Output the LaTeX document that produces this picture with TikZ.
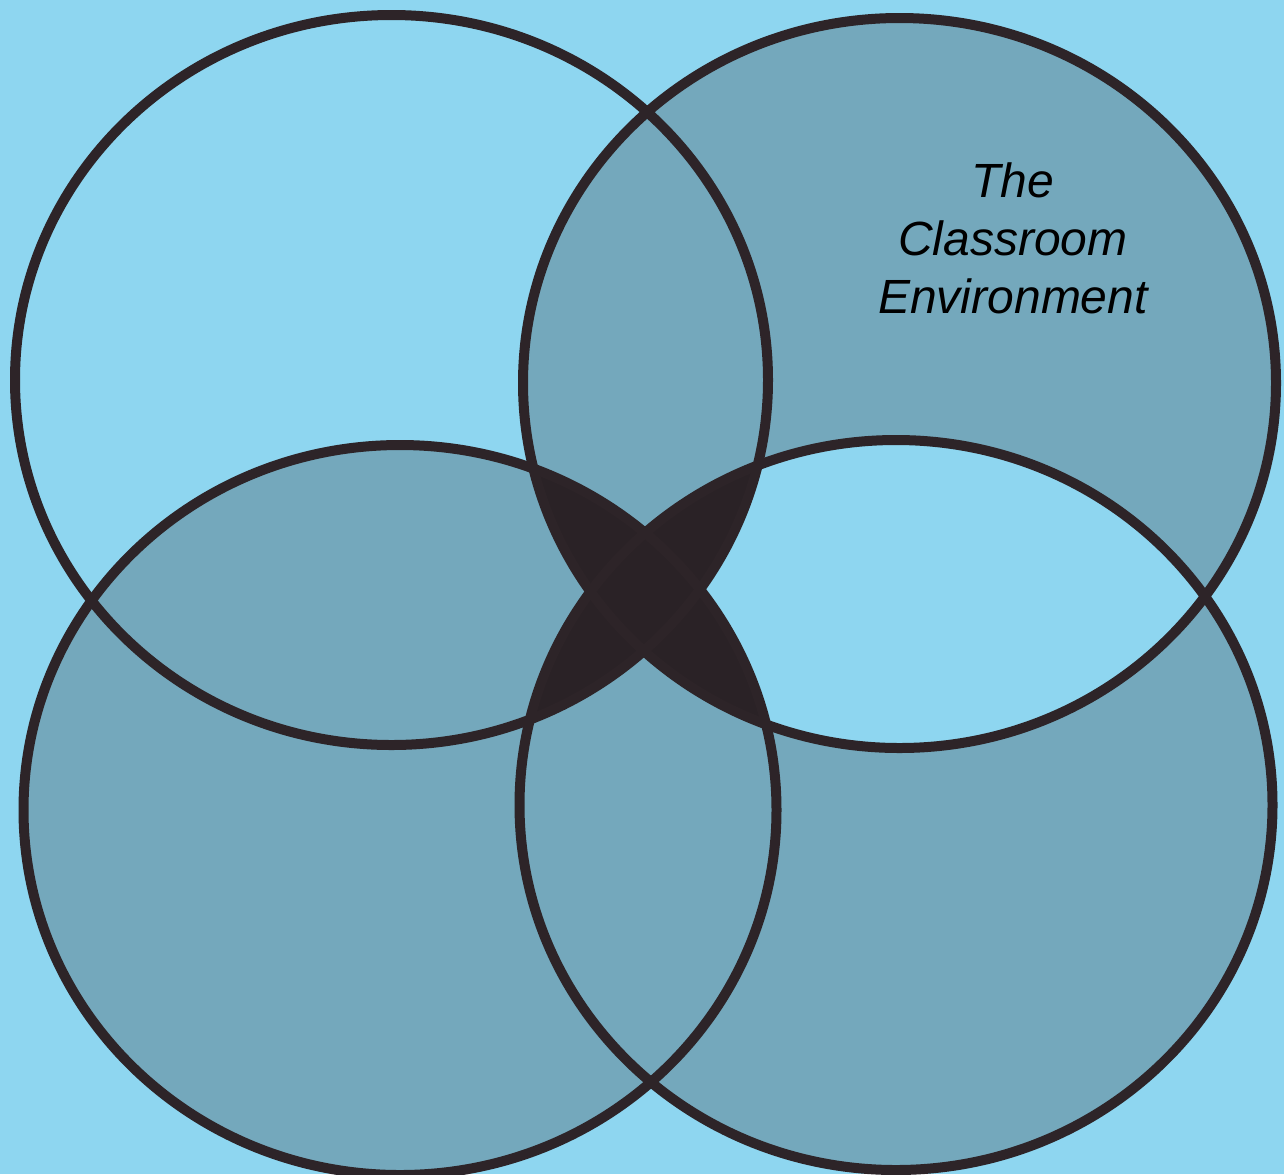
\documentclass[tikz,border=0pt]{standalone}
\usepackage{fontspec}
\newfontfamily\labelfont{Liberation Sans}
\definecolor{bgblue}{RGB}{142,214,240}
\definecolor{midblue}{RGB}{116,168,188}
\definecolor{darkx}{RGB}{42,34,38}
\definecolor{ink}{RGB}{45,36,40}
\tikzset{
  ring/.style={draw=ink, line width=5pt},
  label/.style={inner sep=0pt, align=center, font=\labelfont\itshape\fontsize{24}{29}\selectfont, text=black}
}
\begin{document}
\begin{tikzpicture}[x=0.5pt, y=-0.5pt]
\useasboundingbox (0,0) rectangle (1284,1174);
\fill[bgblue] (0,0) rectangle (1284,1174);
\def\TL{(391.5,380) ellipse [x radius=376.5, y radius=365]}
\def\TR{(899.5,383) ellipse [x radius=376.5, y radius=365]}
\def\BL{(400,810) ellipse [x radius=376.5, y radius=365]}
\def\BR{(896,805) ellipse [x radius=376.5, y radius=365]}
% single-circle shading
\fill[midblue] \TR;
\fill[midblue] \BL;
\fill[midblue] \BR;
% right lens light
\begin{scope}
  \clip \TR;
  \fill[bgblue] \BR;
\end{scope}
% dark centre: diagonal lenses
\begin{scope}
  \clip \TL;
  \fill[darkx] \BR;
\end{scope}
\begin{scope}
  \clip \TR;
  \fill[darkx] \BL;
\end{scope}
% outlines
\draw[ring] \TL;
\draw[ring] \TR;
\draw[ring] \BL;
\draw[ring] \BR;
\node[label] (title) at (1013,238) {The\\Classroom\\Environment};
\end{tikzpicture}
\end{document}
